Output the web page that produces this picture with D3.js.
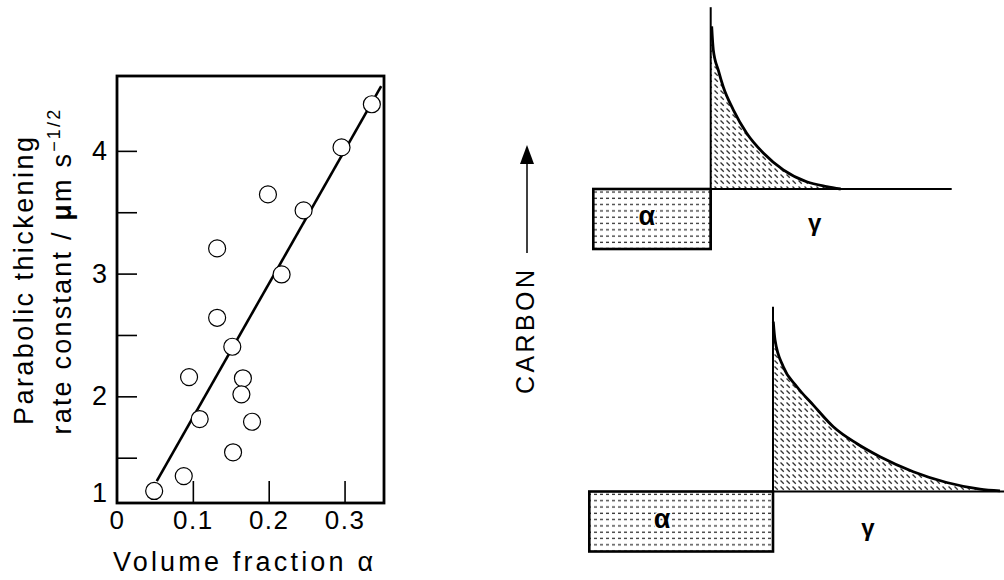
<!DOCTYPE html>
<html>
<head>
<meta charset="utf-8">
<script src="https://cdn.jsdelivr.net/npm/d3@7/dist/d3.min.js"></script>
<style>
  html, body { margin: 0; padding: 0; background: #fff; }
  svg { display: block; }
  text { font-family: "Liberation Sans", Arial, sans-serif; fill: #000; }
</style>
</head>
<body>
<svg id="chart" width="1004" height="580"></svg>
<script>
// ---------- Data (scatter plot) ----------
const volumeFraction = [0.049, 0.088, 0.109, 0.095, 0.132, 0.132, 0.152, 0.153, 0.166, 0.164, 0.178, 0.199, 0.217, 0.246, 0.296, 0.336];
const rateConstant   = [1.03, 1.24, 1.815, 2.157, 2.64, 3.205, 2.404, 1.544, 2.147, 2.016, 1.793, 3.645, 2.993, 3.515, 4.028, 4.38];
const fitX = [0.0524, 0.3483];
const fitY = [1.17, 4.527];
const xTickValues = [0.1, 0.2, 0.3];
const xTickLabels = [0, 0.1, 0.2, 0.3];
const yTickValues = [1.5, 2, 2.5, 3, 3.5, 4];
const yTickLabels = [1, 2, 3, 4];

// ---------- Data (schematic carbon profiles) ----------
// distance from interface (arbitrary units), carbon level (gamma bulk = 1, alpha = 0..1)
const topProfileDist   = [0, 0.1, 0.26, 0.76, 1.26, 2.26, 3.6, 5.26, 7.26, 9.6, 11.6, 13.0];
const topProfileCarbon = [3.71, 3.71, 3.32, 2.98, 2.70, 2.32, 1.93, 1.60, 1.32, 1.12, 1.04, 1.0];
const botProfileDist   = [0, 0.03, 0.2, 1.03, 2.37, 4.03, 6.03, 8.37, 10.7, 14.03, 17.37, 20.7, 22.7];
const botProfileCarbon = [3.83, 3.83, 3.53, 3.08, 2.75, 2.44, 2.08, 1.80, 1.58, 1.33, 1.15, 1.04, 1.01];
const topAlphaWidth = 11.74, topGammaLength = 24.1, topInterfaceTop = 4.03;
const botAlphaWidth = 18.37, botGammaLength = 23.3, botInterfaceTop = 4.08;

const svg = d3.select("#chart");

// ---------- Patterns ----------
const defs = svg.append("defs");
const pDiag = defs.append("pattern").attr("id", "diag").attr("patternUnits", "userSpaceOnUse")
  .attr("width", 6).attr("height", 6);
pDiag.append("line").attr("x1", 0.5).attr("y1", 0.5).attr("x2", 3.8).attr("y2", 3.8)
  .attr("stroke", "#333").attr("stroke-width", 1.3);
const pDash = defs.append("pattern").attr("id", "dash").attr("patternUnits", "userSpaceOnUse")
  .attr("width", 6).attr("height", 6.3);
pDash.append("line").attr("x1", 0).attr("y1", 3).attr("x2", 3).attr("y2", 3)
  .attr("stroke", "#333").attr("stroke-width", 1.3);

// ---------- Scatter plot ----------
const x = d3.scaleLinear().domain([0, 0.352]).range([117, 384]);
const y = d3.scaleLinear().domain([0.86, 1.5, 4.61]).range([503, 457.7, 76]);

const plot = svg.append("g");

// ticks (inward)
plot.append("g").attr("transform", `translate(${x(0)},0)`)
  .call(d3.axisLeft(y).tickValues(yTickValues).tickSizeInner(-20).tickSizeOuter(0).tickFormat(""))
  .call(g => g.select(".domain").remove())
  .call(g => g.selectAll(".tick line").attr("stroke", "#000").attr("stroke-width", 1.6));
plot.append("g").attr("transform", `translate(0,${y.range()[0]})`)
  .call(d3.axisBottom(x).tickValues(xTickValues).tickSizeInner(-22).tickSizeOuter(0).tickFormat(""))
  .call(g => g.select(".domain").remove())
  .call(g => g.selectAll(".tick line").attr("stroke", "#000").attr("stroke-width", 1.6));

// tick labels
plot.append("g").attr("transform", `translate(${x(0) - 10},0)`)
  .call(d3.axisLeft(y).tickValues(yTickLabels).tickSize(0).tickPadding(0).tickFormat(d3.format("d")))
  .call(g => g.select(".domain").remove())
  .call(g => g.selectAll("text").attr("font-size", 27).attr("font-family", "Liberation Sans, Arial, sans-serif").attr("fill", "#000"));
plot.append("g").attr("transform", `translate(0,${y.range()[0] + 8})`)
  .call(d3.axisBottom(x).tickValues(xTickLabels).tickSize(0).tickPadding(0).tickFormat(d => d === 0 ? "0" : d3.format(".1f")(d)))
  .call(g => g.select(".domain").remove())
  .call(g => g.selectAll("text").attr("font-size", 26).attr("letter-spacing", 1.5).attr("font-family", "Liberation Sans, Arial, sans-serif").attr("fill", "#000"));

// frame
plot.append("rect").attr("x", x(0)).attr("y", y(4.61)).attr("width", x(0.352) - x(0)).attr("height", y(0.86) - y(4.61))
  .attr("fill", "none").attr("stroke", "#000").attr("stroke-width", 2.8);

// fit line
plot.append("path").datum(d3.zip(fitX, fitY))
  .attr("d", d3.line().x(d => x(d[0])).y(d => y(d[1])))
  .attr("stroke", "#000").attr("stroke-width", 2.6).attr("fill", "none");

// points
plot.selectAll("circle.pt").data(d3.zip(volumeFraction, rateConstant)).join("circle")
  .attr("class", "pt").attr("cx", d => x(d[0])).attr("cy", d => y(d[1])).attr("r", 8.5)
  .attr("fill", "#fff").attr("stroke", "#000").attr("stroke-width", 1.2);

// axis titles
svg.append("text").attr("x", 243).attr("y", 571).attr("text-anchor", "middle")
  .attr("font-size", 27).attr("textLength", 260).attr("lengthAdjust", "spacing")
  .text("Volume fraction α");
svg.append("text").attr("transform", "translate(33,281) rotate(-90)").attr("text-anchor", "middle")
  .attr("font-size", 27).attr("textLength", 288).attr("lengthAdjust", "spacing")
  .text("Parabolic thickening");
const t2 = svg.append("text").attr("transform", "translate(71,271) rotate(-90)").attr("text-anchor", "middle")
  .attr("font-size", 27).attr("letter-spacing", 2.2);
t2.append("tspan").text("rate constant / ");
t2.append("tspan").attr("font-weight", "bold").text("μ");
t2.append("tspan").text("m s");
t2.append("tspan").attr("font-size", 18).attr("dy", -11).text("−1/2");

// ---------- CARBON arrow ----------
svg.append("line").attr("x1", 527).attr("y1", 253).attr("x2", 527).attr("y2", 160)
  .attr("stroke", "#000").attr("stroke-width", 1.5);
svg.append("path").attr("d", d3.line()([[527, 145], [520, 164], [534, 164]]) + "Z").attr("fill", "#000");
svg.append("text").attr("transform", "translate(534,332) rotate(-90)").attr("text-anchor", "middle")
  .attr("font-size", 25).attr("textLength", 124).attr("lengthAdjust", "spacing").text("CARBON");

// ---------- Schematic panels ----------
function panel(X0, Y0, dist, carbon, alphaW, gammaL, ifaceTop) {
  const sx = d3.scaleLinear().domain([0, 10]).range([X0, X0 + 100]);
  const sy = d3.scaleLinear().domain([0, 1]).range([Y0 + 60, Y0]);
  const g = svg.append("g");
  const pts = d3.zip(dist, carbon);
  // hatched area
  g.append("path").datum(pts)
    .attr("d", d3.area().x(d => sx(d[0])).y0(sy(1)).y1(d => sy(d[1])).curve(d3.curveMonotoneX))
    .attr("fill", "url(#diag)");
  // alpha rectangle
  g.append("rect").attr("x", sx(-alphaW)).attr("y", sy(1)).attr("width", sx(0) - sx(-alphaW)).attr("height", sy(0) - sy(1))
    .attr("fill", "url(#dash)").attr("stroke", "#000").attr("stroke-width", 2.6);
  // baseline gamma
  g.append("line").attr("x1", sx(0)).attr("x2", sx(gammaL)).attr("y1", sy(1)).attr("y2", sy(1))
    .attr("stroke", "#000").attr("stroke-width", 2);
  // interface
  g.append("line").attr("x1", sx(0)).attr("x2", sx(0)).attr("y1", sy(0)).attr("y2", sy(ifaceTop))
    .attr("stroke", "#000").attr("stroke-width", 2);
  // profile curve
  g.append("path").datum(pts.slice(1))
    .attr("d", d3.line().x(d => sx(d[0])).y(d => sy(d[1])).curve(d3.curveMonotoneX))
    .attr("fill", "none").attr("stroke", "#000").attr("stroke-width", 2.8);
  return { sx, sy, g };
}

const topP = panel(710.7, 189, topProfileDist, topProfileCarbon, topAlphaWidth, topGammaLength, topInterfaceTop);
const botP = panel(773, 491.5, botProfileDist, botProfileCarbon, botAlphaWidth, botGammaLength, botInterfaceTop);

function greek(p, xd, yd, txt, size) {
  p.g.append("text").attr("x", p.sx(xd)).attr("y", p.sy(yd)).attr("text-anchor", "middle")
    .attr("dominant-baseline", "central")
    .attr("font-family", "DejaVu Sans, sans-serif").attr("font-weight", "bold").attr("font-size", size)
    .attr("paint-order", "stroke").attr("stroke", "#fff").attr("stroke-width", 3)
    .text(txt);
}
greek(topP, -6.4, 0.55, "α", 27);
greek(topP, 10.4, 0.45, "γ", 24);
greek(botP, -11.1, 0.55, "α", 27);
greek(botP, 9.5, 0.4, "γ", 24);
</script>
</body>
</html>
